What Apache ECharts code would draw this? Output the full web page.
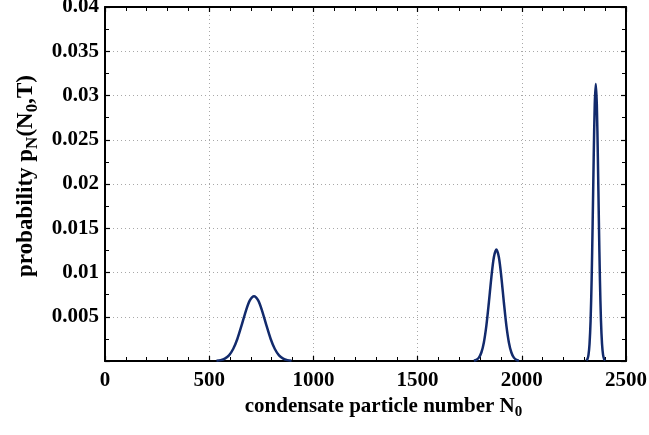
<!DOCTYPE html>
<html><head><meta charset="utf-8">
<script src="https://cdn.jsdelivr.net/npm/echarts@6/dist/echarts.min.js"></script>
<style>html,body{margin:0;padding:0;background:#fff}#c{width:649px;height:435px}</style>
</head><body><div id="c"></div>
<script>
const peak1X = [535,555,575,595,615,635,655,675,695,715,735,755,775,795,815,835,855,875,895];
const peak1Y = [0.000031,0.000097,0.00027,0.00064,0.00135,0.00249,0.00399,0.00559,0.00685,0.00733,0.00685,0.00559,0.00399,0.00249,0.00135,0.00064,0.00027,0.000097,0.000031];
const peak2X = [1770,1782,1794,1806,1818,1830,1842,1854,1866,1878,1890,1902,1914,1926,1938,1950,1962,1974,1986];
const peak2Y = [0.000038,0.00013,0.00038,0.00096,0.00210,0.00400,0.00661,0.00946,0.01173,0.0126,0.01173,0.00946,0.00661,0.00400,0.00210,0.00096,0.00038,0.00013,0.000038];
const peak3X = [2310,2315,2320,2325,2330,2335,2340,2345,2350,2355,2360,2365,2370,2375,2380,2385,2390,2395,2400];
const peak3Y = [0.000059,0.00022,0.00070,0.00192,0.00451,0.00906,0.01558,0.02296,0.02897,0.0313,0.02897,0.02296,0.01558,0.00906,0.00451,0.00192,0.00070,0.00022,0.000059];
const xTicks = [0,500,1000,1500,2000,2500];
const yTicks = [0.005,0.01,0.015,0.02,0.025,0.03,0.035,0.04];

const FONT = 'Liberation Serif';
const lineColor = '#122a6c';
function pairs(xs, ys){ return xs.map((x,i)=>[x, ys[i]]); }
const tickStyle = {show:true, inside:true, length:5, lineStyle:{color:'#000', width:1.2}};
const minorX = {show:true, splitNumber:5, length:4, lineStyle:{color:'#000', width:1}};
const minorY = {show:true, splitNumber:2, length:4, lineStyle:{color:'#000', width:1}};
const axLine = {show:true, onZero:false, lineStyle:{color:'#000', width:2}};
const grid = {type:[1,3], color:'#a8a8a8', width:1};
const xRich = {
  n:{fontFamily:FONT, fontWeight:'bold', fontSize:21, color:'#000'},
  s:{fontFamily:FONT, fontWeight:'bold', fontSize:15, color:'#000', padding:[12,0,0,0], verticalAlign:'bottom'}
};
const yRich = {
  n:{fontFamily:FONT, fontWeight:'bold', fontSize:23, color:'#000'},
  s:{fontFamily:FONT, fontWeight:'bold', fontSize:17, color:'#000', padding:[13,0,0,0], verticalAlign:'bottom'}
};
const chart = echarts.init(document.getElementById('c'));
chart.setOption({
  animation:false,
  grid:{left:105, right:23, top:7, bottom:74, containLabel:false, outerBoundsMode:'none'},
  xAxis:[{
    type:'value', min:0, max:2500, interval:500, position:'bottom',
    axisLine:axLine, axisTick:tickStyle, minorTick:minorX,
    splitLine:{show:true, lineStyle:grid},
    axisLabel:{fontFamily:FONT, fontWeight:'bold', fontSize:21, color:'#000', margin:9,
      formatter:v=> xTicks.includes(v) ? String(v) : ''},
    name:'{n|condensate particle number N}{s|0}', nameLocation:'middle', nameGap:32,
    nameTextStyle:{rich:xRich, padding:[0,0,0,36]}
  },{
    type:'value', min:0, max:2500, interval:500, position:'top',
    axisLine:axLine, axisTick:tickStyle, minorTick:minorX,
    splitLine:{show:false}, axisLabel:{show:false}
  }],
  yAxis:[{
    type:'value', min:0, max:0.04, interval:0.005, position:'left',
    axisLine:axLine, axisTick:tickStyle, minorTick:minorY,
    splitLine:{show:true, lineStyle:grid},
    axisLabel:{fontFamily:FONT, fontWeight:'bold', fontSize:21, color:'#000', margin:6,
      formatter:v=>{ const r = parseFloat(v.toFixed(4)); return yTicks.includes(r) ? String(r) : ''; }},
    name:'{n|probability p}{s|N}{n|(N}{s|0}{n|,T)}', nameLocation:'middle', nameGap:62, nameRotate:90,
    nameTextStyle:{rich:yRich, padding:[0,0,0,16]}
  },{
    type:'value', min:0, max:0.04, interval:0.005, position:'right',
    axisLine:axLine, axisTick:tickStyle, minorTick:minorY,
    splitLine:{show:false}, axisLabel:{show:false}
  }],
  series:[
    {type:'line', data:pairs(peak1X,peak1Y), smooth:0.3, symbol:'none', lineStyle:{color:lineColor, width:2.5}, clip:true},
    {type:'line', data:pairs(peak2X,peak2Y), smooth:0.3, symbol:'none', lineStyle:{color:lineColor, width:2.5}, clip:true},
    {type:'line', data:pairs(peak3X,peak3Y), smooth:0.3, symbol:'none', lineStyle:{color:lineColor, width:2.5}, clip:true}
  ]
});
</script></body></html>
